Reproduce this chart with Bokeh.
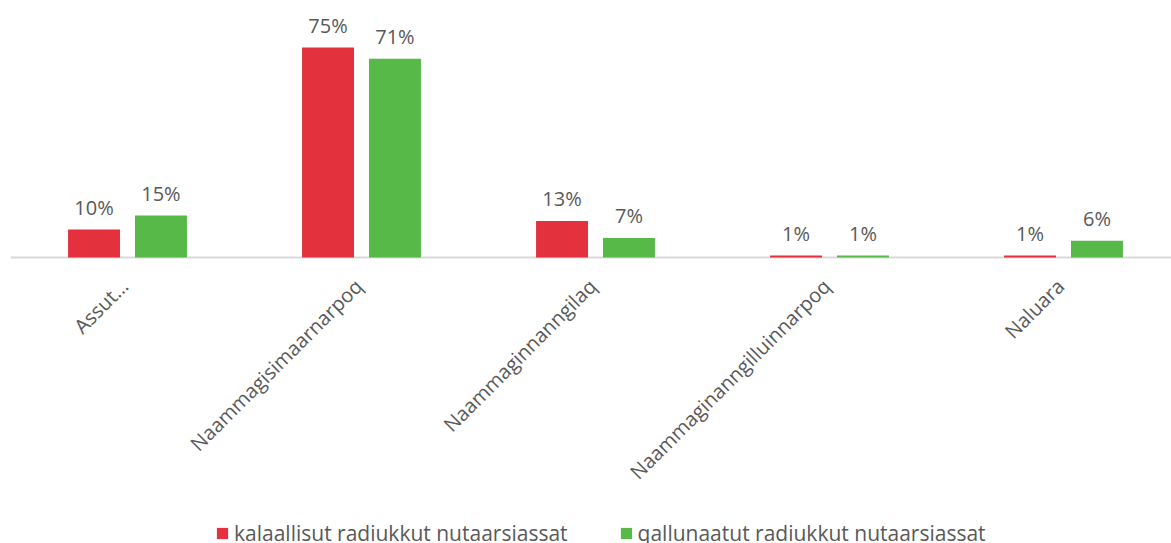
import numpy as np
from math import pi
from bokeh.plotting import figure
from bokeh.core.properties import value
from bokeh.models import (Range1d, ColumnDataSource, LabelSet, Span,
                          Legend, LegendItem)
from bokeh.embed import file_html
from bokeh.resources import INLINE

categories = ["Assut…", "Naammagisimaarnarpoq", "Naammaginnanngilaq",
              "Naammaginanngilluinnarpoq", "Naluara"]
series_names = ["kalaallisut radiukkut nutaarsiassat",
                "qallunaatut radiukkut nutaarsiassat"]
kalaallisut = [10, 75, 13, 0.7, 0.7]
qallunaatut = [15, 71, 7, 0.7, 6]
colors = ["#E3313E", "#56B948"]

FONT = "Open Sans"
TXT = "#595959"
PX_PER_PCT = 2.8

p = figure(frame_width=1161, frame_height=535,
           output_backend="svg", toolbar_location=None,
           x_range=Range1d(0, 1161 / 234.0),
           y_range=Range1d(-286 / PX_PER_PCT, 249 / PX_PER_PCT),
           min_border_left=10, min_border_right=0, min_border_top=8,
           min_border_bottom=0)
p.outline_line_color = None
p.xgrid.visible = False
p.ygrid.visible = False
p.xaxis.visible = False
p.yaxis.visible = False

p.add_layout(Span(location=0, dimension="width", line_color="#D9D9D9",
                  line_width=2, level="underlay"))

xc = np.arange(len(categories)) + 0.5
off = 0.143
bw = 0.222

renderers = []
for vals, shift, col in [(kalaallisut, -off, colors[0]), (qallunaatut, off, colors[1])]:
    src = ColumnDataSource(dict(x=xc + shift, top=vals,
                                lbl=[f"{v:.0f}%" for v in vals]))
    r = p.vbar(x="x", top="top", width=bw, bottom=0, source=src,
               fill_color=col, line_color=None)
    renderers.append(r)
    p.add_layout(LabelSet(x="x", y="top", text="lbl", source=src,
                          text_align="center", text_baseline="alphabetic",
                          y_offset=15, text_font=value(FONT),
                          text_font_size=value("20px"), text_color=value(TXT)))

cat_src = ColumnDataSource(dict(x=xc, y=[0] * len(categories), name=categories))
p.add_layout(LabelSet(x="x", y="y", text="name", source=cat_src,
                      angle=pi / 4, text_align="right", text_baseline="middle",
                      x_offset=-3, y_offset=-25, text_font=value(FONT),
                      text_font_size=value("20px"), text_color=value(TXT)))

legend = Legend(items=[LegendItem(label=series_names[i], renderers=[renderers[i]])
                       for i in range(2)],
                orientation="horizontal", location=(205, -4),
                label_text_font=FONT, label_text_font_size="21px",
                label_text_color=TXT, glyph_width=14, glyph_height=14,
                label_standoff=5, spacing=51, padding=0, margin=0,
                border_line_color=None, background_fill_alpha=0)
p.add_layout(legend, "center")

open("out.html", "w").write(file_html(p, INLINE))
